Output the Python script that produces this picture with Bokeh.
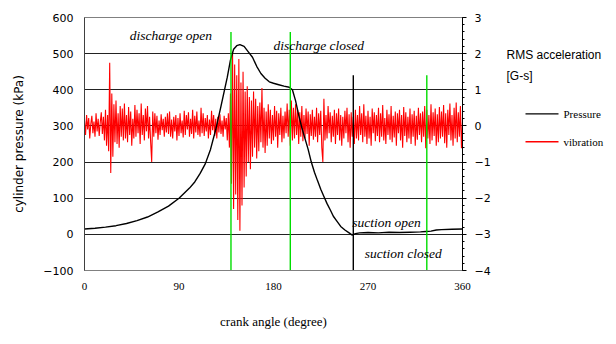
from bokeh.plotting import figure
from bokeh.layouts import row
from bokeh.models import Range1d, LinearAxis, FixedTicker, Label
from bokeh.embed import file_html
from bokeh.resources import INLINE
from bokeh.core.properties import value

# ---------------- data ----------------
x_ticks = [0, 90, 180, 270, 360]
p_ticks = [-100, 0, 100, 200, 300, 400, 500, 600]
g_ticks = [-4, -3, -2, -1, 0, 1, 2, 3]

press_angle = [0, 10, 20, 30, 40, 50, 60, 70, 80, 90, 100, 105, 110, 115, 120, 125,
               130, 133, 136, 139, 142, 145, 148, 152, 156, 160, 164, 168, 172, 176,
               180, 185, 190, 195, 198, 201, 204, 207, 210, 213, 216, 219, 222, 225,
               228, 231, 234, 237, 240, 244, 248, 252, 255, 258, 262, 270, 280, 290,
               300, 310, 320, 325, 330, 335, 340, 350, 360]
press_kpa = [15, 17, 20, 24, 30, 38, 48, 62, 78, 100, 128, 145, 168, 195, 235, 290,
             355, 395, 435, 482, 512, 522, 525, 520, 505, 490, 465, 445, 432, 422,
             418, 414, 410, 407, 400, 370, 330, 295, 265, 235, 200, 172, 148, 125,
             105, 85, 68, 50, 38, 22, 12, 4, -2, 2, 4, 5, 4, 6,
             5, 6, 7, 8, 9, 12, 13, 14, 15]

vib_angle = list(range(0, 361))
vib_g = [
    0.15, -0.25, 0.30, -0.10, 0.22, -0.35, 0.05, 0.28, -0.20, 0.12, -0.30, 0.35, -0.15, 0.20, -0.28, 0.10, 0.38, -0.22, 0.25, -0.40,
    0.45, -0.55, 0.30, -0.70, 1.75, -1.30, 0.90, -0.85, 0.60, -0.45, 0.70, -0.50, 0.35, -0.60, 0.55, -0.30, 0.48, -0.40, 0.62, -0.35,
    0.30, -0.45, 0.52, -0.25, 0.40, -0.55, 0.20, -0.35, 0.58, -0.30, 0.45, -0.20, 0.35, -0.50, 0.62, -0.25, 0.30, -0.40, 0.48, -0.15,
    0.55, -0.35, 0.25, -0.45, -1.00, 0.40, -0.30, 0.35, -0.20, 0.28, -0.38, 0.15, -0.25, 0.32, -0.12, 0.20, -0.30, 0.25, -0.18, 0.35,
    -0.22, 0.40, -0.30, 0.18, -0.35, 0.25, -0.15, 0.30, -0.40, 0.22, -0.28, 0.35, -0.20, 0.15, -0.32, 0.42, -0.25, 0.30, -0.10, 0.38,
    -0.30, 0.20, -0.22, 0.45, -0.35, 0.28, -0.18, 0.40, -0.25, 0.15, -0.30, 0.50, -0.20, 0.35, -0.28, 0.22, -0.15, 0.30, -0.35, 0.18,
    -0.25, 0.42, -0.12, 0.30, -0.28, 0.20, -0.35, 0.25, -0.18, 0.32, -0.22, 0.15, -0.30, 0.28, -0.10, 0.22, -0.40, 0.35, -0.60, 0.90,
    -1.60, 2.05, -2.30, 1.70, -1.90, 1.40, -2.60, 1.85, -2.90, 1.20, -2.20, 1.50, -1.70, 0.95, -1.40, 1.10, -1.00, 0.80, -1.20, 0.70,
    -0.85, 0.95, -0.60, 0.75, -0.90, 0.55, -0.70, 0.65, -0.45, 1.05, -0.60, 0.50, -0.75, 0.40, -0.55, 0.60, -0.35, 0.45, -0.50, 0.30,
    -0.40, 0.55, -0.30, 0.42, -0.60, 0.35, -0.25, 0.50, -0.45, 0.28, -0.35, 0.40, -0.20, 0.62, -0.30, 0.45, -0.55, 0.70, -0.40, 0.50,
    -0.35, 0.60, -0.25, 0.45, -0.50, 0.38, -0.30, 0.55, -0.42, 0.30, -0.35, 0.48, -0.22, 0.40, -0.55, 0.32, -0.28, 0.45, -0.38, 0.25,
    -0.30, 0.50, -0.45, 0.35, -0.25, 0.42, -0.60, -1.00, 0.75, -0.40, 0.30, -0.35, 0.55, -0.20, 0.38, -0.45, 0.28, -0.30, 0.45, -0.50,
    0.35, -0.25, 0.48, -0.40, 0.30, -0.55, 0.25, -0.35, 0.42, -0.20, 0.50, -0.45, 0.32, -0.60, 0.38, -0.30, 0.25, -0.50, 0.45, -0.35,
    0.30, -0.40, 0.55, -0.25, 0.35, -0.45, 0.60, -0.30, 0.28, -0.50, 0.42, -0.35, 0.25, -0.55, 0.48, -0.20, 0.38, -0.42, 0.30, -0.28,
    0.50, -0.45, 0.35, -0.30, 0.58, -0.40, 0.22, -0.50, 0.45, -0.25, 0.32, -0.38, 0.55, -0.45, 0.28, -0.32, 0.40, -0.55, 0.35, -0.20,
    0.45, -0.40, 0.30, -0.60, 0.52, -0.28, 0.38, -0.45, 0.25, -0.35, 0.48, -0.50, 0.32, -0.30, 0.42, -0.55, 0.28, -0.38, 0.50, -0.25,
    0.35, -0.45, 0.40, -0.30, 0.55, -0.62, 0.45, -0.35, 0.30, -0.50, 0.60, -0.40, 0.38, -0.28, 0.48, -0.55, 0.32, -0.45, 0.52, -0.35,
    0.40, -0.30, 0.58, -0.48, 0.35, -0.60, 0.45, -0.25, 0.62, -0.40, 0.30, -0.55, 0.50, -0.35, 0.65, -0.45, 0.38, -0.30, 0.55, -0.62,
    0.10,
]
assert len(vib_g) == len(vib_angle)

# valve events (crank angle, top of marker line in kPa)
event_angle = [139.5, 196, 326, 256]
event_top = [560, 560, 440, 440]
event_color = ["#00dd00", "#00dd00", "#00dd00", "#000000"]

notes = ["discharge open", "discharge closed", "suction open", "suction closed"]
note_angle = [43, 180, 255, 267]
note_kpa = [550, 522, 33, -53]

caption_lines = ["RMS acceleration", "[G-s]"]
legend_labels = ["Pressure", "vibration"]
legend_colors = ["black", "#ff0000"]

# ---------------- main figure ----------------
H = 336
p = figure(width=493, height=H, output_backend="svg", toolbar_location=None,
           x_range=Range1d(0, 360), y_range=Range1d(-100, 600),
           min_border_left=84, min_border_right=30, min_border_top=17,
           min_border_bottom=66)
p.extra_y_ranges = {"vib": Range1d(-4, 3)}
p.outline_line_color = "#808080"
p.outline_line_width = 1
p.background_fill_color = "white"
p.border_fill_color = "white"

p.xgrid.visible = False
p.ygrid.ticker = FixedTicker(ticks=p_ticks)
p.ygrid.grid_line_color = "#222222"
p.ygrid.grid_line_width = 1

xa = p.xaxis[0]
xa.ticker = FixedTicker(ticks=x_ticks)
xa.major_tick_out = 0
xa.major_tick_in = 0
xa.minor_tick_out = 0
xa.axis_line_color = "#808080"
xa.major_label_standoff = 12
xa.major_label_text_font = "Liberation Serif"
xa.major_label_text_font_size = "11px"
xa.major_label_text_color = "black"
xa.axis_label = "crank angle (degree)"
xa.axis_label_text_font = "Liberation Serif"
xa.axis_label_text_font_size = "13px"
xa.axis_label_text_font_style = "normal"
xa.axis_label_text_color = "black"
xa.axis_label_standoff = 21

ya = p.yaxis[0]
ya.ticker = FixedTicker(ticks=p_ticks)
ya.major_tick_out = 0
ya.major_tick_in = 0
ya.minor_tick_out = 0
ya.axis_line_color = "#404040"
ya.major_label_standoff = 11
ya.major_label_text_font = "DejaVu Sans"
ya.major_label_text_font_size = "11px"
ya.major_label_text_color = "black"
ya.axis_label = "cylinder pressure (kPa)"
ya.axis_label_text_font = "DejaVu Sans"
ya.axis_label_text_font_size = "12px"
ya.axis_label_text_font_style = "normal"
ya.axis_label_text_color = "black"
ya.axis_label_standoff = 14

minor = [round(-4 + 0.2 * i, 1) for i in range(36)]
ra = LinearAxis(y_range_name="vib",
                ticker=FixedTicker(ticks=g_ticks, minor_ticks=minor))
ra.axis_line_color = "black"
ra.major_tick_out = 4
ra.major_tick_in = 0
ra.minor_tick_out = 2
ra.minor_tick_in = 0
ra.major_tick_line_color = "black"
ra.minor_tick_line_color = "black"
ra.major_label_standoff = 8
ra.major_label_text_font = "DejaVu Sans"
ra.major_label_text_font_size = "11px"
ra.major_label_text_color = "black"
p.add_layout(ra, "right")

p.line(vib_angle, vib_g, y_range_name="vib", line_color="#ff0000", line_width=1.1)
p.line(press_angle, press_kpa, line_color="black", line_width=1.4)

p.segment(x0=event_angle, y0=[-100] * len(event_angle), x1=event_angle, y1=event_top,
          line_color=event_color, line_width=1.4)

for t, xa_, ya_ in zip(notes, note_angle, note_kpa):
    p.add_layout(Label(x=xa_, y=ya_, text=t, text_font="Liberation Serif",
                       text_font_style="italic", text_font_size="13.5px",
                       text_align="left", text_baseline="middle", text_color="black"))

# ---------------- side panel (caption + legend) ----------------
SW = 115
side = figure(width=SW, height=H, output_backend="svg", toolbar_location=None,
              x_range=Range1d(0, SW), y_range=Range1d(H, 0), min_border=0,
              x_axis_location=None, y_axis_location=None)
side.grid.visible = False
side.outline_line_color = None
side.background_fill_color = "white"
side.border_fill_color = "white"

side.text(x=[13, 13], y=[50, 78], text=caption_lines,
          text_font=value("Liberation Sans"), text_font_size="12px",
          text_align="left", text_baseline="middle", text_color="black")
side.segment(x0=[32, 32], y0=[128, 165], x1=[65, 65], y1=[128, 165],
             line_color=legend_colors, line_width=1.4)
side.text(x=[70, 70], y=[128, 165], text=legend_labels,
          text_font=value("Liberation Serif"), text_font_size="11px",
          text_align="left", text_baseline="middle", text_color="black")

layout = row(p, side, spacing=0)
open("out.html", "w").write(file_html(layout, INLINE))
